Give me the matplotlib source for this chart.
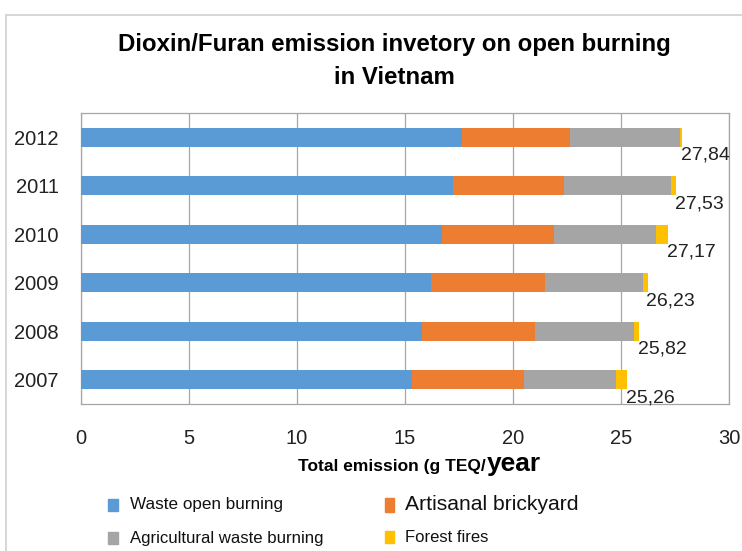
import matplotlib.pyplot as plt
from matplotlib.patches import Rectangle

plt.rcParams['font.family'] = ['Liberation Sans', 'DejaVu Sans']

# data (g TEQ/year)
years = ['2007', '2008', '2009', '2010', '2011', '2012']
waste_open = [15.32, 15.78, 16.21, 16.69, 17.20, 17.65]
brickyard = [5.20, 5.25, 5.28, 5.22, 5.14, 4.97]
agri_waste = [4.26, 4.55, 4.55, 4.71, 4.97, 5.09]
forest = [0.48, 0.24, 0.19, 0.55, 0.22, 0.13]
totals = [25.26, 25.82, 26.23, 27.17, 27.53, 27.84]
total_labels = ['25,26', '25,82', '26,23', '27,17', '27,53', '27,84']

colors = ['#5B9BD5', '#ED7D31', '#A5A5A5', '#FFC000']
series = [waste_open, brickyard, agri_waste, forest]

fig = plt.figure(figsize=(7.42, 5.51), dpi=100)
ax = fig.add_axes([81 / 742, 1 - 404 / 551, (729 - 81) / 742, (404 - 113) / 551])

y = list(range(len(years)))
left = [0] * len(years)
for vals, c in zip(series, colors):
    ax.barh(y, vals, left=left, height=0.4, color=c, zorder=3)
    left = [a + b for a, b in zip(left, vals)]

for yi, t, lab in zip(y, totals, total_labels):
    ax.text(t - 0.05, yi - 0.2, lab, ha='left', va='top', fontsize=14,
            color='#222222', zorder=4)

ax.set_xlim(0, 30)
ax.set_ylim(-0.5, 5.5)
ax.set_xticks(range(0, 31, 5))
ax.set_yticks(y)
ax.set_yticklabels(years)
ax.tick_params(axis='both', length=0, labelsize=14.5, colors='#222222')
ax.tick_params(axis='x', pad=18)
ax.tick_params(axis='y', pad=16)
ax.grid(axis='x', color='#A6A6A6', linewidth=0.9, zorder=0)
for s in ax.spines.values():
    s.set_color('#A6A6A6')
    s.set_linewidth(0.9)

# outer chart border
fig.patches.append(Rectangle((6 / 742, -0.1), 1.2, 1.1 - 15 / 551,
                             transform=fig.transFigure, fill=False,
                             edgecolor='#D0D0D0', linewidth=1.2))

fig.text(394 / 742, 1 - 45 / 551, 'Dioxin/Furan emission invetory on open burning',
         ha='center', va='center', fontsize=17.3, fontweight='bold')
fig.text(394 / 742, 1 - 77 / 551, 'in Vietnam',
         ha='center', va='center', fontsize=17.3, fontweight='bold')

# axis title in two sizes
fig.text(486 / 742, 1 - 471 / 551, 'Total emission (g TEQ/', ha='right',
         va='baseline', fontsize=12.5, fontweight='bold')
fig.text(487 / 742, 1 - 471 / 551, 'year', ha='left', va='baseline',
         fontsize=19, fontweight='bold')

# legend
legend_items = [
    ('Waste open burning', colors[0], 108, 505, 12.3, 10, 12, 22),
    ('Artisanal brickyard', colors[1], 385, 505, 15.2, 9, 14, 20),
    ('Agricultural waste burning', colors[2], 108, 538, 12.1, 10, 12, 22),
    ('Forest fires', colors[3], 385, 537, 12, 9, 12, 20),
]
for lab, c, px, py, fs, w, h, gap in legend_items:
    fig.patches.append(Rectangle((px / 742, 1 - (py + h / 2) / 551), w / 742, h / 551,
                                 transform=fig.transFigure, color=c))
    fig.text((px + gap) / 742, 1 - py / 551, lab, ha='left', va='center',
             fontsize=fs, color='#111111')

fig.savefig('out.png', dpi=100)
